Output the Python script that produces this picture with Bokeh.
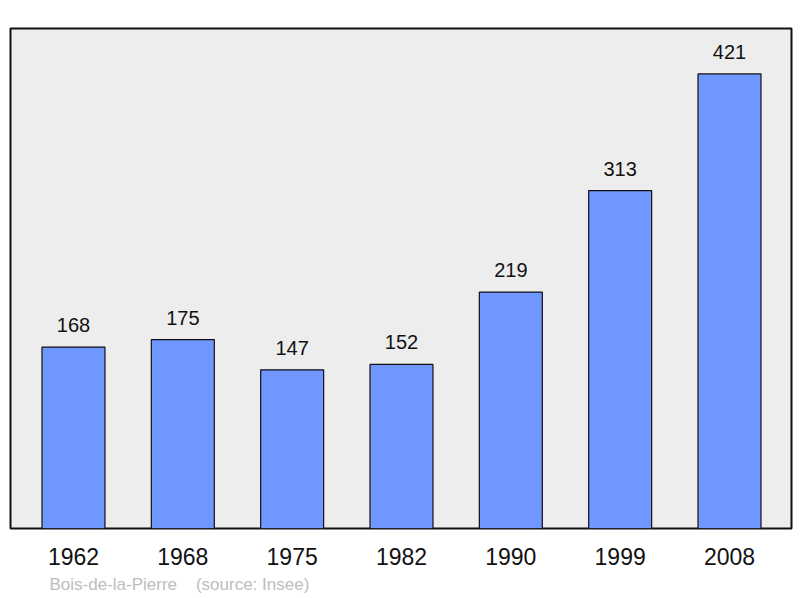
from bokeh.plotting import figure
from bokeh.models import Range1d, FixedTicker, Title, ColumnDataSource
from bokeh.core.properties import value
from bokeh.embed import file_html
from bokeh.resources import INLINE

years = ["1962", "1968", "1975", "1982", "1990", "1999", "2008"]
population = [168, 175, 147, 152, 219, 313, 421]
footer = "Bois-de-la-Pierre\u00a0\u00a0\u00a0 (source: Insee)"

idx = list(range(len(years)))
src = ColumnDataSource(dict(x=idx, top=population, label=[str(v) for v in population]))

p = figure(width=800, height=598, output_backend="svg", toolbar_location=None,
           x_range=Range1d(-0.576, 6.567), y_range=Range1d(0, 463.1),
           min_border_left=10, min_border_right=9, min_border_top=28, min_border_bottom=70)
p.background_fill_color = "#ededed"
p.border_fill_color = "white"
p.outline_line_color = "#111111"
p.outline_line_width = 2
p.grid.visible = False
p.yaxis.visible = False

p.vbar(x="x", top="top", bottom=0, width=0.576, source=src,
       fill_color="#7096ff", line_color="#111111", line_width=1.2)
p.text(x="x", y="top", text="label", source=src, text_align="center",
       text_baseline="alphabetic", y_offset=-22, text_font_size="20px",
       text_font=value("Liberation Sans"), text_color="#111111")

xa = p.xaxis[0]
xa.ticker = FixedTicker(ticks=idx)
xa.major_label_overrides = {i: y for i, y in zip(idx, years)}
xa.axis_line_color = None
xa.major_tick_line_color = None
xa.major_tick_out = 0
xa.major_tick_in = 0
xa.minor_tick_line_color = None
xa.minor_tick_out = 0
xa.major_label_text_font = "Liberation Sans"
xa.major_label_text_font_size = "23px"
xa.major_label_text_color = "#111111"
xa.major_label_standoff = 19

p.add_layout(Title(text=footer, align="left", offset=39, standoff=10,
                   text_font="Liberation Sans", text_font_size="17px",
                   text_font_style="normal", text_color="#bdbdbd"), "below")

open("out.html", "w").write(file_html(p, INLINE))
